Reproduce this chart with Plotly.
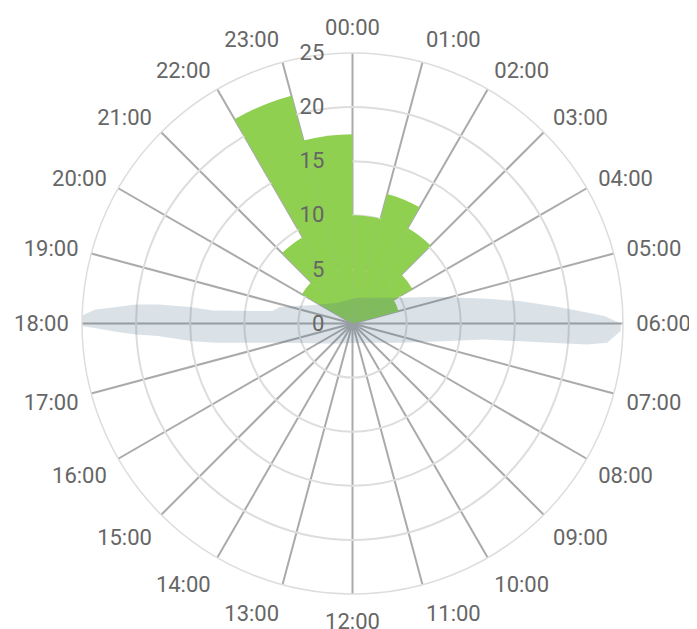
import plotly.graph_objects as go

# Hour categories (angular axis labels)
hour_labels = [f"{h:02d}:00" for h in range(24)]
hour_angles = [h * 15 for h in range(24)]

# Bar values per hour slot (bar spans hour h .. h+1)
bar_hours = list(range(24))
bar_values = [10.0, 12.4, 10.2, 6.4, 4.4, 0, 0, 0, 0, 0, 0, 0,
              0, 0, 0, 0, 0, 0, 0, 0, 5.4, 9.2, 21.8, 17.5]

# Grey band outline (angle in degrees clockwise from 00:00, radius in value units)
band_theta = [90.0, 88.3, 86.9, 85.1, 82.5, 79.6, 71.7, 61.6, 9.3, 322.4, 293.0,
              282.8, 278.8, 275.3, 275.8, 275.6, 275.0, 273.9, 273.1, 271.7,
              269.4, 269.0, 268.0, 267.1, 266.3, 263.7, 262.0, 255.7, 228.4,
              180.0, 112.1, 100.3, 97.0, 96.0, 95.5, 95.1, 94.3, 91.6]
band_r = [24.8, 23.3, 21.1, 18.7, 15.7, 12.7, 7.9, 5.0, 2.4, 2.4, 4.3,
          6.9, 7.5, 13.0, 14.9, 18.0, 20.1, 22.0, 23.8, 25.0,
          25.0, 23.8, 21.9, 20.1, 18.0, 14.9, 12.8, 7.2, 2.8,
          1.8, 4.7, 9.1, 12.2, 15.7, 18.7, 21.8, 23.6, 24.8]

radial_ticks = [0, 5, 10, 15, 20, 25]

fig = go.Figure()
fig.add_trace(go.Barpolar(
    r=bar_values,
    theta=[h * 15 + 7.5 for h in bar_hours],
    width=[15] * len(bar_hours),
    marker=dict(color="#8fd050", line=dict(width=0)),
    hoverinfo="skip",
    showlegend=False,
))
fig.add_trace(go.Scatterpolar(
    r=band_r + [band_r[0]],
    theta=band_theta + [band_theta[0]],
    mode="lines",
    line=dict(width=0, color="rgba(0,0,0,0)"),
    fill="toself",
    fillcolor="rgba(70,112,136,0.2)",
    hoverinfo="skip",
    showlegend=False,
))

font = dict(family="Roboto, 'Liberation Sans', sans-serif", size=22, color="#666666")

fig.update_layout(
    width=689, height=621,
    margin=dict(l=73, r=73, t=45, b=35),
    paper_bgcolor="white",
    font=font,
    showlegend=False,
    polar=dict(
        bgcolor="white",
        domain=dict(x=[0, 1], y=[0, 1]),
        radialaxis=dict(
            range=[0, 25],
            tickvals=radial_ticks,
            ticktext=[str(v) for v in radial_ticks],
            angle=90,
            side="counterclockwise",
            showline=False,
            ticks="outside",
            ticklen=20,
            tickcolor="rgba(0,0,0,0)",
            gridcolor="#dddddd",
            gridwidth=1.5,
            tickfont=font,
            tickangle=90,
        ),
        angularaxis=dict(
            rotation=90,
            direction="clockwise",
            tickmode="array",
            tickvals=hour_angles,
            ticktext=hour_labels,
            showline=True,
            linecolor="#dddddd",
            linewidth=1.5,
            gridcolor="#aaaaaa",
            gridwidth=2,
            ticks="outside",
            ticklen=8,
            tickcolor="rgba(0,0,0,0)",
            tickfont=font,
        ),
    ),
)

fig.write_html("out.html")
